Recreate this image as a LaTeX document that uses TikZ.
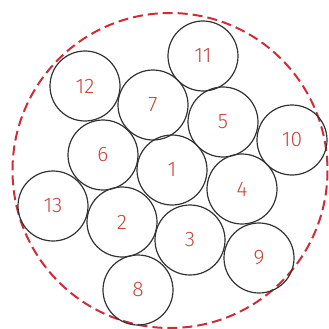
\documentclass[tikz,border=0pt]{standalone}
\usepackage{fontspec}
\setmainfont{Fira Sans Light}
\definecolor{lbl}{RGB}{200,70,60}
\definecolor{dash}{RGB}{205,45,55}
\definecolor{ring}{RGB}{50,50,50}
\begin{document}
\begin{tikzpicture}[x=1pt,y=-1pt,
  wire/.style={circle,draw=ring,line width=1.2pt,minimum size=70pt,inner sep=0pt,
    text=lbl,font=\fontsize{21}{24}\selectfont},
  outer/.style={draw=dash,line width=2pt,dash pattern=on 10pt off 5pt}]
\useasboundingbox (0,0) rectangle (329,329);
\draw[outer] (170,170.5) circle (157.5);
\node[wire] (n1) at (172,170) {1};
\node[wire] (n2) at (122,222) {2};
\node[wire] (n3) at (190,240) {3};
\node[wire] (n4) at (242,189) {4};
\node[wire] (n5) at (223,122) {5};
\node[wire] (n6) at (103,155) {6};
\node[wire] (n7) at (153,105) {7};
\node[wire] (n8) at (138,290) {8};
\node[wire] (n9) at (259,258) {9};
\node[wire] (n10) at (292,140) {10};
\node[wire] (n11) at (203,56) {11};
\node[wire] (n12) at (85,86) {12};
\node[wire] (n13) at (53,206) {13};
\end{tikzpicture}
\end{document}
